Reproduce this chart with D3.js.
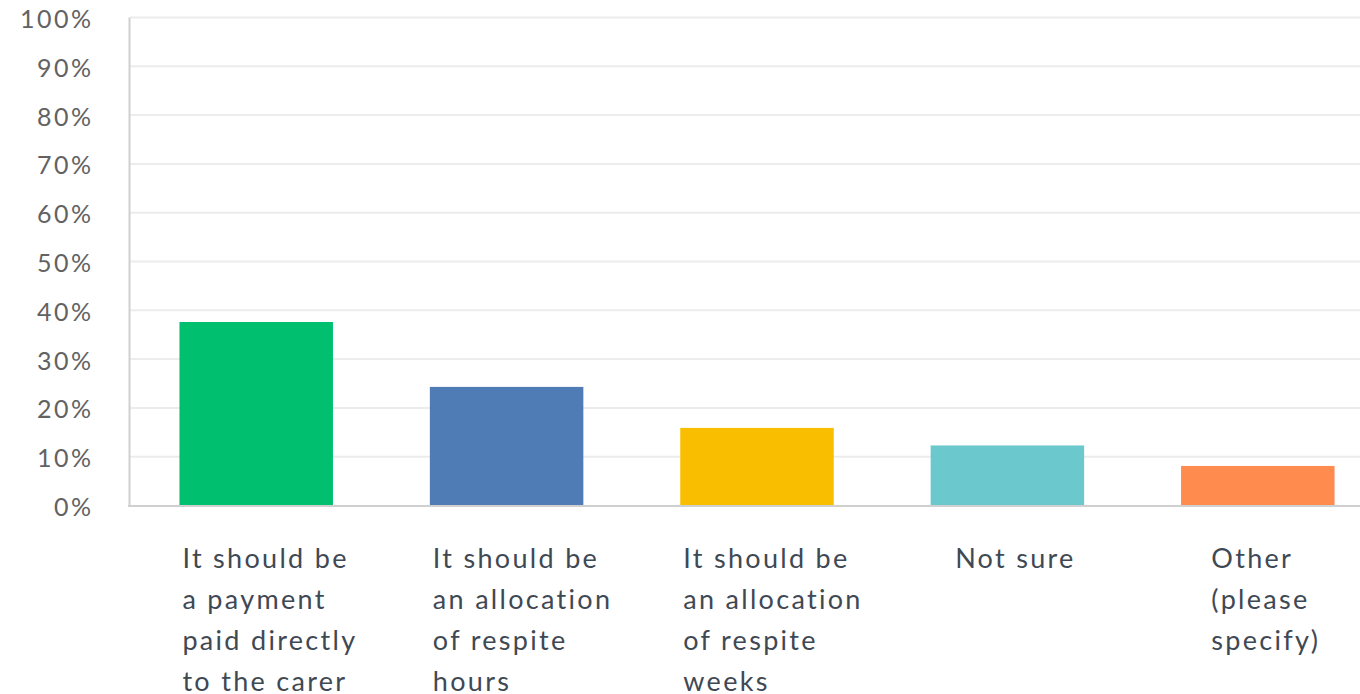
<!DOCTYPE html>
<html><head><meta charset="utf-8">
<script src="https://cdn.jsdelivr.net/npm/d3@7"></script>
<style>
html,body{margin:0;padding:0;background:#fff;overflow:hidden}
</style></head>
<body>
<svg id="chart" width="1360" height="694"></svg>
<script>
const categories = [
  ["It should be", "a payment", "paid directly", "to the carer"],
  ["It should be", "an allocation", "of respite", "hours"],
  ["It should be", "an allocation", "of respite", "weeks"],
  ["Not sure"],
  ["Other", "(please", "specify)"]
];
const values = [0.375, 0.242, 0.158, 0.122, 0.080];
const colors = ["#00bf6f", "#507cb6", "#f9be00", "#6bc8cd", "#ff8b4f"];
const yTicks = [0, 0.1, 0.2, 0.3, 0.4, 0.5, 0.6, 0.7, 0.8, 0.9, 1.0];

const svg = d3.select("#chart");
const mLeft = 130, mRight = 1383, mTop = 17, mBottom = 505;

const x = d3.scaleBand().domain(d3.range(values.length)).range([mLeft + 1, mRight]).paddingInner(0.387).paddingOuter(0.1935);
const y = d3.scaleLinear().domain([0, 1]).range([mBottom, mTop]);

// gridlines
svg.append("g").selectAll("line").data(yTicks.filter(d => d > 0)).join("line")
  .attr("x1", mLeft).attr("x2", 1360)
  .attr("y1", d => y(d) + 0.5).attr("y2", d => y(d) + 0.5)
  .attr("stroke", "#ececec").attr("stroke-width", 2);

// y axis
const yAxis = d3.axisLeft(y).tickValues(yTicks).tickFormat(d3.format(".0%")).tickSize(0).tickPadding(35.5);
const ga = svg.append("g").attr("transform", `translate(${mLeft - 1},0)`).call(yAxis);
ga.select(".domain").attr("stroke", "#d0d0d0").attr("stroke-width", 2);
ga.selectAll("text").attr("font-family", "Lato, 'Open Sans', sans-serif").attr("font-size", 25)
  .attr("letter-spacing", 2.5)
  .attr("fill", "#626262").attr("dy", "0.42em");

// bars
svg.append("g").selectAll("rect").data(values).join("rect")
  .attr("x", (d, i) => x(i)).attr("width", x.bandwidth())
  .attr("y", d => y(d)).attr("height", d => y(0) - y(d))
  .attr("fill", (d, i) => colors[i]);

// x axis baseline
svg.append("line").attr("x1", mLeft - 2).attr("x2", 1360).attr("y1", mBottom + 1).attr("y2", mBottom + 1)
  .attr("stroke", "#d0d0d0").attr("stroke-width", 2);

// category labels (left-aligned block, centred on the band unless it is wider than the bar)
const lab = svg.append("g").selectAll("text").data(categories).join("text")
  .attr("x", 0).attr("y", 568)
  .attr("font-family", "Lato, 'Open Sans', sans-serif").attr("font-size", 27)
  .attr("letter-spacing", 2.3)
  .attr("fill", "#3f4954");
lab.selectAll("tspan").data(d => d).join("tspan")
  .attr("x", 0)
  .attr("dy", (d, j) => j === 0 ? 0 : 41)
  .text(d => d);
lab.each(function (d, i) {
  const w = this.getBBox().width;
  const cx = x(i) + x.bandwidth() / 2;
  const sx = Math.max(x(i) + 3, cx + 8 - w / 2);
  d3.select(this).attr("x", sx).selectAll("tspan").attr("x", sx);
});
</script>
</body></html>
